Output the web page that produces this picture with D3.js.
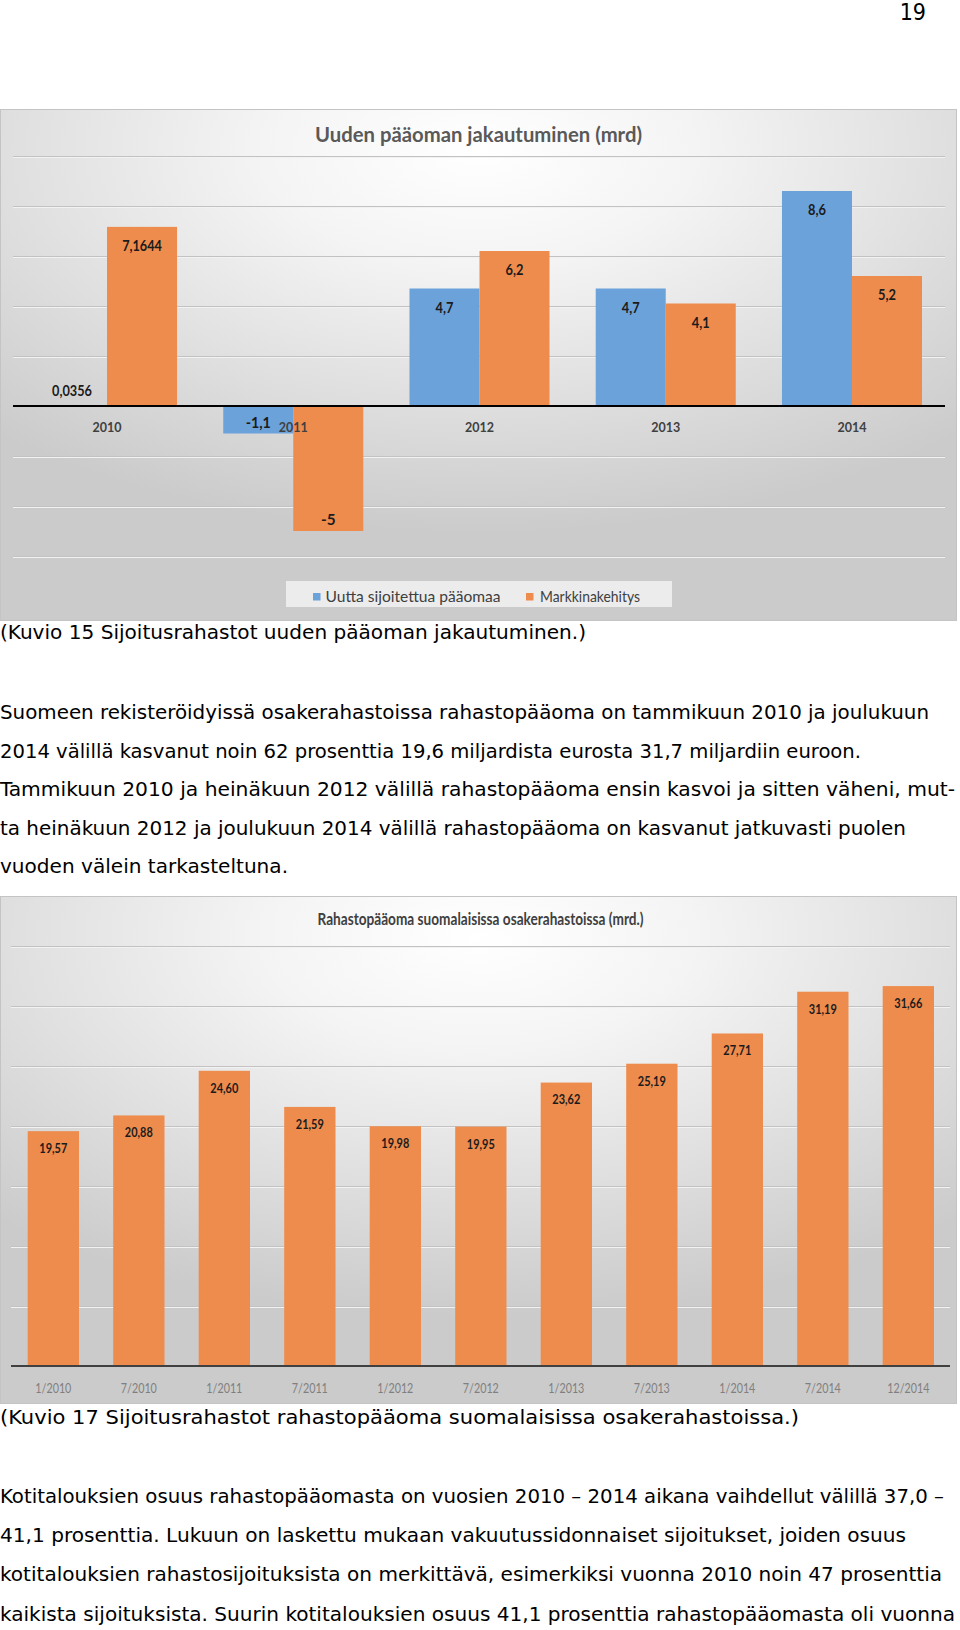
<!DOCTYPE html>
<html><head><meta charset="utf-8">
<script src="https://cdn.jsdelivr.net/npm/d3@7"></script>
<style>
html,body{margin:0;padding:0;background:#fff;}
svg{display:block;}
</style></head>
<body>
<script>
// ---- Chart 1 data ----
const years = ["2010", "2011", "2012", "2013", "2014"];
const seriesNames = ["Uutta sijoitettua pääomaa", "Markkinakehitys"];
const newCapital = [0.0356, -1.1, 4.7, 4.7, 8.6];
const marketDevelopment = [7.1644, -5, 6.2, 4.1, 5.2];
const chart1Ticks = [-6, -4, -2, 0, 2, 4, 6, 8, 10];

// ---- Chart 2 data ----
const periods = ["1/2010", "7/2010", "1/2011", "7/2011", "1/2012", "7/2012", "1/2013", "7/2013", "1/2014", "7/2014", "12/2014"];
const fundCapital = [19.57, 20.88, 24.60, 21.59, 19.98, 19.95, 23.62, 25.19, 27.71, 31.19, 31.66];
const chart2Ticks = [0, 5, 10, 15, 20, 25, 30, 35];

// ---- Text ----
const pageNumber = "19";
const caption1 = "(Kuvio 15 Sijoitusrahastot uuden pääoman jakautuminen.)";
const para1 = [
  "Suomeen rekisteröidyissä osakerahastoissa rahastopääoma on tammikuun 2010 ja joulukuun",
  "2014 välillä kasvanut noin 62 prosenttia 19,6 miljardista eurosta 31,7 miljardiin euroon.",
  "Tammikuun 2010 ja heinäkuun 2012 välillä rahastopääoma ensin kasvoi ja sitten väheni, mut-",
  "ta heinäkuun 2012 ja joulukuun 2014 välillä rahastopääoma on kasvanut jatkuvasti puolen",
  "vuoden välein tarkasteltuna."
];
const caption2 = "(Kuvio 17 Sijoitusrahastot rahastopääoma suomalaisissa osakerahastoissa.)";
const para2 = [
  "Kotitalouksien osuus rahastopääomasta on vuosien 2010 – 2014 aikana vaihdellut välillä 37,0 –",
  "41,1 prosenttia. Lukuun on laskettu mukaan vakuutussidonnaiset sijoitukset, joiden osuus",
  "kotitalouksien rahastosijoituksista on merkittävä, esimerkiksi vuonna 2010 noin 47 prosenttia",
  "kaikista sijoituksista. Suurin kotitalouksien osuus 41,1 prosenttia rahastopääomasta oli vuonna"
];

const W = 960, H = 1630;
const BLUE = "#6CA2DA", ORANGE = "#EE8C4D";
const chartFont = "Lato, 'Open Sans', sans-serif";
const bodyFont = "'DejaVu Sans', sans-serif";

const svg = d3.select("body").append("svg").attr("width", W).attr("height", H);
svg.append("rect").attr("width", W).attr("height", H).attr("fill", "#fff");

const defs = svg.append("defs");
const grad = defs.append("radialGradient").attr("id", "bg").attr("cx", "50%").attr("cy", "8%").attr("r", "75%").attr("fx", "50%").attr("fy", "8%");
grad.append("stop").attr("offset", "0%").attr("stop-color", "#ffffff");
grad.append("stop").attr("offset", "30%").attr("stop-color", "#f4f4f4");
grad.append("stop").attr("offset", "100%").attr("stop-color", "#cbcbcb");

// Page number
svg.append("text").attr("x", 926).attr("y", 20).attr("text-anchor", "end")
  .attr("font-family", bodyFont).attr("font-stretch", "condensed").attr("font-size", 23).attr("fill", "#000").text(pageNumber);

// ============ Chart 1 ============
const c1 = { top: 109, bottom: 621, left: 0, right: 957 };
const g1 = svg.append("g");
g1.append("rect").attr("x", c1.left + 0.5).attr("y", c1.top + 0.5)
  .attr("width", c1.right - c1.left - 1).attr("height", c1.bottom - c1.top - 1)
  .attr("fill", "url(#bg)").attr("stroke", "#c4c4c4");

g1.append("text").attr("x", 478.5).attr("y", 135).attr("dy", "0.35em").attr("text-anchor", "middle")
  .attr("font-family", chartFont).attr("font-weight", 700).attr("font-size", 20).attr("fill", "#595959")
  .attr("textLength", 327).attr("lengthAdjust", "spacingAndGlyphs")
  .text("Uuden pääoman jakautuminen (mrd)");

const y1 = d3.scaleLinear().domain([-6, 10]).range([556, 156]);
const x1 = d3.scaleBand().domain(years).range([13.9, 945.1]).paddingInner(0).paddingOuter(0);
const xs1 = d3.scaleBand().domain(seriesNames).range([0, x1.bandwidth()]).paddingInner(0).paddingOuter(0.33);

// gridlines
const grid1 = g1.append("g");
grid1.selectAll("line.gl").data(chart1Ticks.filter(t => t !== 0)).join("line")
  .attr("x1", 13).attr("x2", 945).attr("y1", d => Math.round(y1(d)) + 0.5).attr("y2", d => Math.round(y1(d)) + 0.5)
  .attr("stroke", "#c2c2c2").attr("stroke-width", 1);
grid1.selectAll("line.gw").data(chart1Ticks.filter(t => t !== 0)).join("line")
  .attr("x1", 13).attr("x2", 945).attr("y1", d => Math.round(y1(d)) + 1.5).attr("y2", d => Math.round(y1(d)) + 1.5)
  .attr("stroke", "#f2f2f2").attr("stroke-width", 1);

const rows1 = years.map((yr, i) => [
  { year: yr, series: seriesNames[0], value: newCapital[i], color: BLUE },
  { year: yr, series: seriesNames[1], value: marketDevelopment[i], color: ORANGE }
]).flat();

g1.append("g").selectAll("rect").data(rows1).join("rect")
  .attr("x", d => x1(d.year) + xs1(d.series))
  .attr("width", xs1.bandwidth())
  .attr("y", d => y1(Math.max(0, d.value)))
  .attr("height", d => Math.abs(y1(d.value) - y1(0)))
  .attr("fill", d => d.color);

// zero line
g1.append("line").attr("x1", 13).attr("x2", 945).attr("y1", y1(0)).attr("y2", y1(0))
  .attr("stroke", "#000").attr("stroke-width", 2);

// category labels (axis)
const ax1 = d3.axisBottom(x1).tickSize(0).tickPadding(0);
const axG1 = g1.append("g").attr("transform", `translate(0,${y1(0) + 21})`).call(ax1);
axG1.select(".domain").remove();
axG1.selectAll("text").attr("dy", "0.35em").attr("y", 0)
  .attr("font-family", chartFont).attr("font-weight", 700).attr("font-size", 14).attr("fill", "#404040")
  .attr("textLength", 29).attr("lengthAdjust", "spacingAndGlyphs");

// value labels
const fmt1 = v => String(v).replace(".", ",");
g1.append("g").selectAll("text").data(rows1).join("text")
  .attr("x", d => x1(d.year) + xs1(d.series) + xs1.bandwidth() / 2)
  .attr("y", d => {
    const h = Math.abs(y1(d.value) - y1(0));
    if (d.value >= 0) return h < 25 ? y1(d.value) - 15 : y1(d.value) + 19;
    return y1(d.value) - 11;
  })
  .attr("dy", "0.35em").attr("text-anchor", "middle")
  .attr("font-family", chartFont).attr("font-weight", 700).attr("font-size", 15.5).attr("fill", "#1b1b1b")
  .attr("textLength", d => { const s = fmt1(d.value); return s.length * 7.3 - (s.includes(",") ? 4 : 0); })
  .attr("lengthAdjust", "spacingAndGlyphs")
  .text(d => fmt1(d.value));

// legend
const lg = g1.append("g");
lg.append("rect").attr("x", 286).attr("y", 581).attr("width", 386).attr("height", 26).attr("fill", "#ececec");
const legendItems = [
  { name: seriesNames[0], color: BLUE, sx: 313, tx: 325.5, w: 175 },
  { name: seriesNames[1], color: ORANGE, sx: 526, tx: 540, w: 100 }
];
lg.selectAll("rect.sw").data(legendItems).join("rect").attr("class", "sw")
  .attr("x", d => d.sx).attr("y", 593).attr("width", 7.5).attr("height", 7.5).attr("fill", d => d.color);
lg.selectAll("text").data(legendItems).join("text")
  .attr("x", d => d.tx).attr("y", 596.5).attr("dy", "0.35em")
  .attr("font-family", chartFont).attr("font-size", 16).attr("fill", "#404040")
  .attr("textLength", d => d.w).attr("lengthAdjust", "spacingAndGlyphs")
  .text(d => d.name);

// ============ Body text helpers ============
function bodyLine(txt, y, width, size) {
  const t = svg.append("text").attr("x", 0).attr("y", y)
    .attr("font-family", bodyFont).attr("font-stretch", "condensed")
    .attr("font-size", size || 20).attr("fill", "#000")
    .text(txt);
  if (width) t.attr("textLength", width).attr("lengthAdjust", "spacingAndGlyphs");
  return t;
}

bodyLine(caption1, 639, 586);
const p1Y = [719, 758, 796, 835, 873];
const p1W = [929, 861, 955, 906, 288];
para1.forEach((l, i) => bodyLine(l, p1Y[i], p1W[i]));

// ============ Chart 2 ============
const c2 = { top: 896, bottom: 1404, left: 0, right: 957 };
const g2 = svg.append("g");
g2.append("rect").attr("x", c2.left + 0.5).attr("y", c2.top + 0.5)
  .attr("width", c2.right - c2.left - 1).attr("height", c2.bottom - c2.top - 1)
  .attr("fill", "url(#bg)").attr("stroke", "#c4c4c4");

g2.append("text").attr("x", 480.5).attr("y", 919.5).attr("dy", "0.35em").attr("text-anchor", "middle")
  .attr("font-family", chartFont).attr("font-weight", 700).attr("font-size", 17).attr("fill", "#404040")
  .attr("textLength", 326).attr("lengthAdjust", "spacingAndGlyphs")
  .text("Rahastopääoma suomalaisissa osakerahastoissa (mrd.)");

const y2 = d3.scaleLinear().domain([0, 35]).range([1366, 946]);
const x2 = d3.scaleBand().domain(periods).range([10.6, 951.1]).paddingInner(0.4).paddingOuter(0.2);

const grid2 = g2.append("g");
grid2.selectAll("line.gl").data(chart2Ticks.filter(t => t !== 0)).join("line")
  .attr("x1", 11).attr("x2", 950).attr("y1", d => Math.round(y2(d)) + 0.5).attr("y2", d => Math.round(y2(d)) + 0.5)
  .attr("stroke", "#c2c2c2");
grid2.selectAll("line.gw").data(chart2Ticks.filter(t => t !== 0)).join("line")
  .attr("x1", 11).attr("x2", 950).attr("y1", d => Math.round(y2(d)) + 1.5).attr("y2", d => Math.round(y2(d)) + 1.5)
  .attr("stroke", "#f2f2f2");

const rows2 = periods.map((p, i) => ({ period: p, value: fundCapital[i] }));
g2.append("g").selectAll("rect").data(rows2).join("rect")
  .attr("x", d => x2(d.period)).attr("width", x2.bandwidth())
  .attr("y", d => y2(d.value)).attr("height", d => y2(0) - y2(d.value))
  .attr("fill", ORANGE);

g2.append("line").attr("x1", 11).attr("x2", 950).attr("y1", y2(0)).attr("y2", y2(0))
  .attr("stroke", "#404040").attr("stroke-width", 2);

const ax2 = d3.axisBottom(x2).tickSize(0).tickPadding(0);
const axG2 = g2.append("g").attr("transform", `translate(0,${y2(0) + 22.5})`).call(ax2);
axG2.select(".domain").remove();
axG2.selectAll("text").attr("dy", "0.35em").attr("y", 0)
  .attr("font-family", chartFont).attr("font-size", 14).attr("fill", "#7f7f7f")
  .attr("textLength", d => d.length * 6).attr("lengthAdjust", "spacingAndGlyphs");

g2.append("g").selectAll("text").data(rows2).join("text")
  .attr("x", d => x2(d.period) + x2.bandwidth() / 2)
  .attr("y", d => y2(d.value) + 17).attr("dy", "0.35em").attr("text-anchor", "middle")
  .attr("font-family", chartFont).attr("font-weight", 700).attr("font-size", 14)
  .attr("fill", "#1b1b1b")
  .attr("textLength", 28).attr("lengthAdjust", "spacingAndGlyphs")
  .text(d => d.value.toFixed(2).replace(".", ","));

bodyLine(caption2, 1424, 799);
const p2Y = [1503, 1542, 1581, 1621];
const p2W = [944, 906, 942, 955];
para2.forEach((l, i) => bodyLine(l, p2Y[i], p2W[i]));
</script>
</body></html>
